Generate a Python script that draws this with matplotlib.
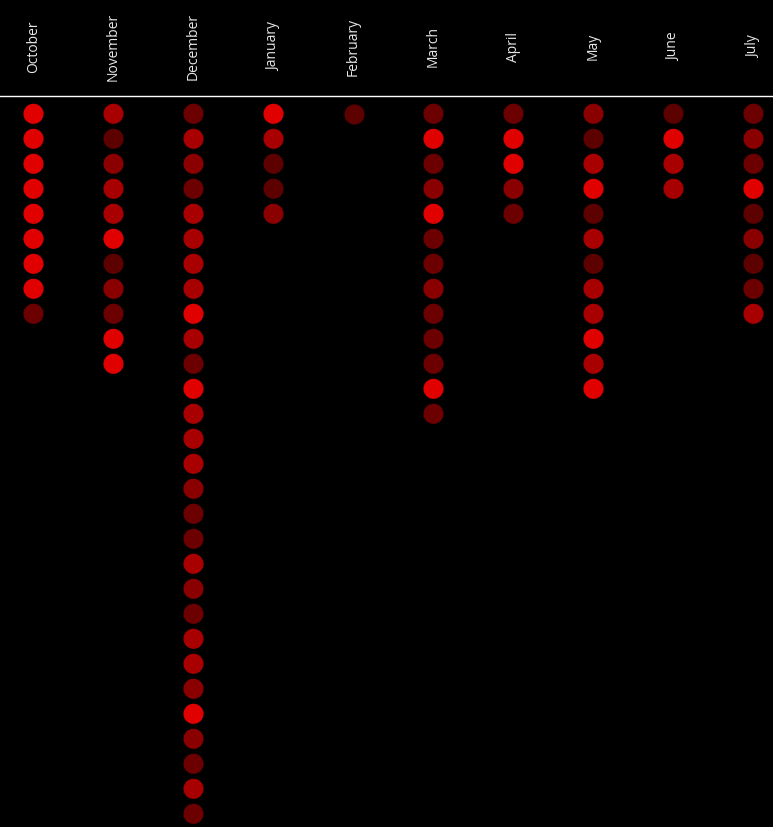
import numpy as np
import matplotlib.pyplot as plt

months = ['October', 'November', 'December', 'January', 'February',
          'March', 'April', 'May', 'June', 'July']

# shade level of every dot, top to bottom (1 = darkest, 5 = brightest)
october = [5, 5, 5, 5, 5, 5, 5, 5, 2]
november = [4, 1, 3, 4, 4, 5, 1, 3, 2, 5, 5]
december = [2, 4, 3, 2, 4, 4, 4, 4, 5, 4, 2, 5, 4, 4, 4, 3, 2, 2, 4, 3,
            2, 4, 4, 3, 5, 3, 2, 4, 2, 3]
january = [5, 4, 1, 1, 3]
february = [1]
march = [2, 5, 2, 3, 5, 2, 2, 3, 2, 2, 2, 5, 2]
april = [2, 5, 5, 3, 2]
may = [3, 1, 4, 5, 1, 4, 1, 4, 4, 5, 4, 5]
june = [1, 5, 4, 4]
july = [2, 3, 2, 5, 1, 3, 1, 2, 4]

columns = [october, november, december, january, february,
           march, april, may, june, july]

shades = {1: '#5c0000', 2: '#6c0000', 3: '#8a0000', 4: '#a80000', 5: '#e00000'}

W, H = 773, 828
fig = plt.figure(figsize=(W / 100, H / 100), dpi=100)
fig.patch.set_facecolor('black')

head_h = 97
ax_head = fig.add_axes([0, 1 - head_h / H, 1, head_h / H])
ax = fig.add_axes([0, 0, 1, (H - head_h) / H])
for a in (ax_head, ax):
    a.set_facecolor('black')
    a.set_xticks([])
    a.set_yticks([])
    for s in a.spines.values():
        s.set_visible(False)

# x: column i sits at pixel 33 + 80*i
xlim = (-33.5 / 80, (W - 33.5) / 80)
ax.set_xlim(*xlim)
ax_head.set_xlim(*xlim)
ax_head.set_ylim(0, 1)

# y: row r sits at pixel 114.5 + 25*r
y0 = 114.8
ax.set_ylim((H - y0) / 25, (head_h - y0) / 25)

ax.spines['top'].set_visible(True)
ax.spines['top'].set_color('white')
ax.spines['top'].set_linewidth(1)

for i, (m, col) in enumerate(zip(months, columns)):
    rows = np.arange(len(col))
    ax.scatter(np.full(len(col), i), rows, s=210,
               c=[shades[v] for v in col], linewidths=0, clip_on=True)
    ax_head.text(i, (head_h - 46.5) / head_h, m, rotation=90, ha='center', va='center',
                 color='#e8e8e8', fontsize=10, family='Open Sans')

fig.savefig('out.png', dpi=100, facecolor='black')
